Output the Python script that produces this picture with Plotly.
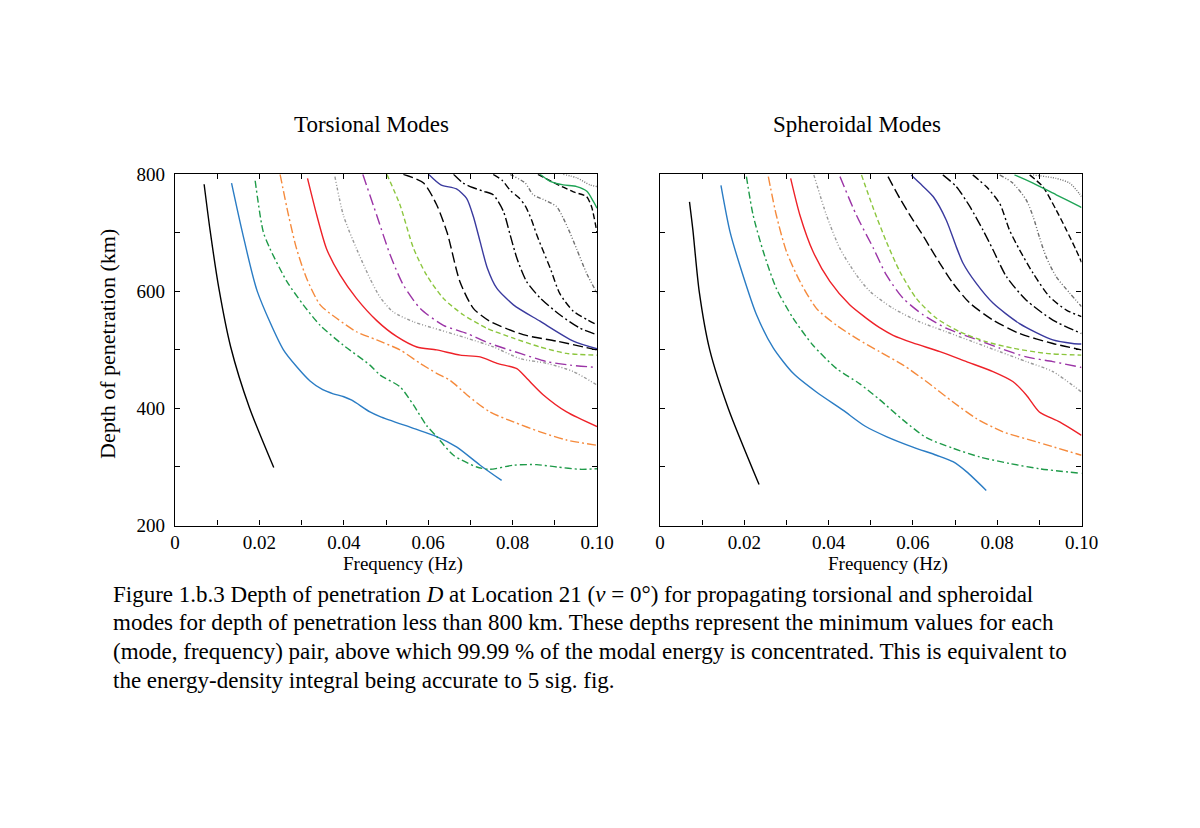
"""
Depth of penetration for torsional and spheroidal modes (two panels + caption)
"""
import plotly.graph_objects as go

# ---- torsional modes (left panel): frequency (Hz) / depth (km) per overtone ----
T1_F = [0.0069, 0.0083, 0.0104, 0.0132, 0.0176, 0.0234]
T1_D = [783, 705, 605, 505, 402, 299]
T2_F = [0.0134, 0.0160, 0.0195, 0.0257, 0.0290, 0.0320, 0.0350, 0.0375, 0.0400, 0.0419, 0.0462, 0.0486, 0.0565, 0.0620, 0.0668, 0.0723, 0.0774]
T2_D = [785, 700, 600, 500, 470, 447, 432, 425, 420, 414, 394, 386, 366, 352, 334, 303, 277]
T3_F = [0.0190, 0.0209, 0.0225, 0.0265, 0.0304, 0.0344, 0.0399, 0.0462, 0.0486, 0.0533, 0.0565, 0.0596, 0.0620, 0.0660, 0.0715, 0.0746, 0.0802, 0.0857, 0.0905, 0.0960, 0.1000]
T3_D = [789, 702, 673, 617, 577, 542, 508, 474, 457, 437, 406, 371, 352, 320, 300, 296, 303, 304, 300, 296, 297]
T4_F = [0.0249, 0.0269, 0.0288, 0.0312, 0.0344, 0.0383, 0.0430, 0.0478, 0.0533, 0.0581, 0.0620, 0.0652, 0.0692, 0.0746, 0.0802, 0.0865, 0.0928, 0.1000]
T4_D = [800, 730, 673, 622, 577, 554, 531, 517, 500, 477, 460, 448, 423, 394, 377, 360, 346, 337]
T5_F = [0.0314, 0.0336, 0.0359, 0.0391, 0.0430, 0.0478, 0.0525, 0.0573, 0.0620, 0.0676, 0.0723, 0.0763, 0.0810, 0.0834, 0.0873, 0.0928, 0.1000]
T5_D = [793, 730, 673, 628, 588, 550, 523, 505, 500, 491, 488, 477, 468, 451, 423, 394, 369]
T6_F = [0.0379, 0.0399, 0.0430, 0.0462, 0.0486, 0.0517, 0.0565, 0.0628, 0.0692, 0.0755, 0.0818, 0.0881, 0.0944, 0.1000]
T6_D = [796, 730, 673, 622, 590, 565, 548, 534, 520, 505, 485, 477, 463, 440]
T7_F = [0.0445, 0.0478, 0.0510, 0.0541, 0.0581, 0.0636, 0.0692, 0.0746, 0.0818, 0.0881, 0.0936, 0.1000]
T7_D = [800, 730, 662, 611, 571, 542, 528, 511, 494, 480, 474, 470]
T8_F = [0.0502, 0.0533, 0.0565, 0.0596, 0.0636, 0.0683, 0.0739, 0.0802, 0.0865, 0.0928, 0.1000]
T8_D = [800, 748, 674, 628, 588, 560, 537, 520, 505, 494, 491]
T9_F = [0.0541, 0.0589, 0.0620, 0.0645, 0.0675, 0.0707, 0.0746, 0.0825, 0.0904, 0.1000]
T9_D = [800, 785, 748, 700, 617, 571, 549, 526, 515, 500]
T10_F = [0.0601, 0.0630, 0.0667, 0.0691, 0.0707, 0.0723, 0.0740, 0.0762, 0.0802, 0.0865, 0.0944, 0.1000]
T10_D = [800, 782, 775, 759, 728, 685, 640, 606, 577, 549, 515, 502]
T11_F = [0.0660, 0.0683, 0.0707, 0.0731, 0.0754, 0.0778, 0.0794, 0.0810, 0.0833, 0.0865, 0.0912, 0.0960, 0.1000]
T11_D = [800, 785, 777, 771, 765, 737, 697, 657, 617, 589, 560, 537, 526]
T12_F = [0.0754, 0.0775, 0.0795, 0.0815, 0.0830, 0.0845, 0.0857, 0.0873, 0.0889, 0.0912, 0.0944, 0.0976, 0.1000]
T12_D = [800, 790, 772, 760, 746, 722, 697, 668, 640, 596, 566, 552, 543]
T13_F = [0.0794, 0.0830, 0.0849, 0.0873, 0.0904, 0.0920, 0.0936, 0.0952, 0.0976, 0.1000]
T13_D = [800, 785, 765, 757, 745, 725, 700, 672, 630, 597]
T14_F = [0.0860, 0.0900, 0.0944, 0.0975, 0.0987, 0.1000]
T14_D = [800, 785, 770, 762, 745, 700]
T15_F = [0.0865, 0.0889, 0.0920, 0.0952, 0.0976, 0.0991, 0.1000]
T15_D = [800, 788, 782, 779, 771, 754, 742]
T16_F = [0.0920, 0.0952, 0.0983, 0.1000]
T16_D = [800, 794, 782, 779]

# ---- spheroidal modes (right panel) ----
S1_F = [0.0070, 0.0078, 0.0093, 0.0118, 0.0162, 0.0235]
S1_D = [753, 705, 600, 500, 400, 270]
S2_F = [0.01446, 0.0166, 0.0194, 0.0229, 0.0269, 0.0316, 0.0371, 0.0434, 0.0486, 0.0537, 0.0600, 0.0656, 0.0695, 0.0727, 0.0774]
S2_D = [781, 702, 634, 560, 503, 460, 428, 397, 370, 352, 334, 320, 309, 292, 260]
S3_F = [0.0205, 0.0221, 0.0245, 0.0276, 0.0316, 0.0363, 0.0419, 0.0474, 0.0521, 0.0577, 0.0632, 0.0695, 0.0759, 0.0829, 0.0900, 0.1000]
S3_D = [796, 730, 668, 605, 554, 508, 468, 442, 415, 380, 350, 332, 317, 306, 297, 289]
S4_F = [0.0257, 0.0276, 0.0300, 0.0332, 0.0371, 0.0419, 0.0470, 0.0521, 0.0577, 0.0632, 0.0695, 0.0750, 0.0814, 0.0893, 0.1000]
S4_D = [796, 730, 668, 617, 571, 542, 518, 497, 474, 446, 411, 383, 360, 343, 320]
S5_F = [0.0310, 0.0332, 0.0363, 0.0403, 0.0450, 0.0486, 0.0521, 0.0553, 0.0600, 0.0664, 0.0727, 0.0790, 0.0837, 0.0869, 0.0900, 0.0948, 0.1000]
S5_D = [793, 730, 668, 617, 577, 556, 538, 525, 512, 497, 480, 463, 446, 423, 394, 377, 354]
S6_F = [0.0365, 0.0395, 0.0427, 0.0466, 0.0498, 0.0553, 0.0616, 0.0679, 0.0742, 0.0806, 0.0869, 0.0932, 0.1000]
S6_D = [799, 730, 673, 628, 600, 571, 548, 531, 514, 497, 480, 463, 428]
S7_F = [0.0427, 0.0466, 0.0506, 0.0537, 0.0577, 0.0624, 0.0679, 0.0742, 0.0806, 0.0869, 0.0932, 0.1000]
S7_D = [796, 730, 674, 628, 588, 560, 537, 520, 503, 488, 480, 470]
S8_F = [0.0478, 0.0506, 0.0537, 0.0569, 0.0608, 0.0656, 0.0711, 0.0774, 0.0837, 0.0916, 0.1000]
S8_D = [799, 742, 685, 634, 588, 554, 531, 514, 503, 494, 491]
S9_F = [0.0541, 0.0569, 0.0600, 0.0620, 0.0640, 0.0664, 0.0695, 0.0735, 0.0790, 0.0853, 0.0932, 0.1000]
S9_D = [796, 759, 722, 700, 676, 648, 614, 580, 551, 528, 511, 500]
S10_F = [0.0596, 0.0616, 0.0648, 0.0679, 0.0703, 0.0719, 0.0750, 0.0790, 0.0853, 0.0932, 0.0979, 0.1000]
S10_D = [799, 785, 762, 722, 676, 648, 614, 580, 545, 517, 511, 510]
S11_F = [0.0671, 0.0703, 0.0735, 0.0766, 0.0790, 0.0822, 0.0869, 0.0932, 0.1000]
S11_D = [799, 779, 745, 705, 671, 625, 585, 551, 528]
S12_F = [0.0742, 0.0774, 0.0806, 0.0829, 0.0853, 0.0885, 0.0924, 0.0964, 0.1000]
S12_D = [799, 779, 750, 705, 671, 631, 591, 568, 557]
S13_F = [0.0806, 0.0837, 0.0869, 0.0885, 0.0900, 0.0916, 0.0940, 0.0972, 0.1000]
S13_D = [799, 785, 756, 728, 693, 659, 625, 597, 574]
S14_F = [0.0877, 0.0908, 0.0940, 0.0964, 0.0987, 0.1000]
S14_D = [799, 779, 739, 705, 671, 650]
S15_F = [0.0841, 0.0885, 0.0940, 0.0995, 0.1000]
S15_D = [799, 785, 765, 745, 743]
S16_F = [0.0885, 0.0940, 0.0972, 0.0995, 0.1000]
S16_D = [799, 793, 785, 767, 762]

X_TICKS = [0, 0.01, 0.02, 0.03, 0.04, 0.05, 0.06, 0.07, 0.08, 0.09, 0.10]
X_LABELS = ["0", "", "0.02", "", "0.04", "", "0.06", "", "0.08", "", "0.10"]
Y_TICKS = [200, 300, 400, 500, 600, 700, 800]
Y_LABELS = ["200", "", "400", "", "600", "", "800"]

CAPTION = [
    "Figure 1.b.3 Depth of penetration <i>D</i> at Location 21 (<i>ν</i> = 0°) for propagating torsional and spheroidal",
    "modes for depth of penetration less than 800 km. These depths represent the minimum values for each",
    "(mode, frequency) pair, above which 99.99 % of the modal energy is concentrated. This is equivalent to",
    "the energy-density integral being accurate to 5 sig. fig.",
]

# line style per overtone (same in both panels)
STYLES = [
    ("black", "solid"),
    ("#2a7cc4", "solid"),
    ("#1e9a48", "7px,3px,2px,3px"),
    ("#f58a3c", "9px,3px,2px,3px"),
    ("#ee2128", "solid"),
    ("#9a9a9a", "3px,2px,1px,2px,1px,2px"),
    ("#9b34a6", "11px,4px,2px,4px"),
    ("#8cc63e", "5px,3px"),
    ("black", "10px,4px"),
    ("#3a3a9e", "solid"),
    ("black", "10px,3px,2px,3px"),
    ("black", "7px,3px,2px,3px"),
    ("#707070", "4px,2px,1px,2px,1px,2px"),
    ("black", "6px,3px"),
    ("#1fa456", "solid"),
    ("#777777", "1px,1.5px"),
]

TORSIONAL = [(T1_F, T1_D), (T2_F, T2_D), (T3_F, T3_D), (T4_F, T4_D), (T5_F, T5_D),
             (T6_F, T6_D), (T7_F, T7_D), (T8_F, T8_D), (T9_F, T9_D), (T10_F, T10_D),
             (T11_F, T11_D), (T12_F, T12_D), (T13_F, T13_D), (T14_F, T14_D),
             (T15_F, T15_D), (T16_F, T16_D)]
SPHEROIDAL = [(S1_F, S1_D), (S2_F, S2_D), (S3_F, S3_D), (S4_F, S4_D), (S5_F, S5_D),
              (S6_F, S6_D), (S7_F, S7_D), (S8_F, S8_D), (S9_F, S9_D), (S10_F, S10_D),
              (S11_F, S11_D), (S12_F, S12_D), (S13_F, S13_D), (S14_F, S14_D),
              (S15_F, S15_D), (S16_F, S16_D)]

SERIF = "Liberation Serif, DejaVu Serif, serif"
W, H = 1200, 828
PAGE_OFFSET = 8  # the html body margin shifts the whole figure by 8px


def px(x):
    return (x - PAGE_OFFSET) / W


def py(y):
    return 1 - (y - PAGE_OFFSET) / H


fig = go.Figure()

for (xa, ya), modes in [(("x", "y"), TORSIONAL), (("x2", "y2"), SPHEROIDAL)]:
    for (f, d), (color, dash) in zip(modes, STYLES):
        fig.add_trace(go.Scatter(
            x=f, y=d, mode="lines", xaxis=xa, yaxis=ya, showlegend=False,
            line=dict(color=color, width=1.4, dash=dash, shape="spline", smoothing=0.7),
            hoverinfo="skip",
        ))

axis_common = dict(
    showline=True, linecolor="black", linewidth=1.2, mirror="ticks",
    ticks="inside", ticklen=5, tickcolor="black", tickwidth=1,
    showgrid=False, zeroline=False, automargin=False,
    tickfont=dict(family=SERIF, size=19, color="black"),
)

fig.update_layout(
    width=W, height=H,
    margin=dict(l=0, r=0, t=0, b=0, pad=0, autoexpand=False),
    paper_bgcolor="white", plot_bgcolor="white",
    font=dict(family=SERIF, color="black"),
    xaxis=dict(domain=[px(175), px(597)], range=[0, 0.10], tickvals=X_TICKS,
               ticktext=X_LABELS, anchor="y", **axis_common),
    yaxis=dict(domain=[py(525.5), py(174.3)], range=[200, 800], tickvals=Y_TICKS,
               ticktext=Y_LABELS, anchor="x", ticklabelstandoff=5, **axis_common),
    xaxis2=dict(domain=[px(660), px(1081.5)], range=[0, 0.10], tickvals=X_TICKS,
                ticktext=X_LABELS, anchor="y2", **axis_common),
    yaxis2=dict(domain=[py(525.5), py(174.3)], range=[200, 800], tickvals=Y_TICKS,
                showticklabels=False, anchor="x2", **axis_common),
)


def note(text, x, y, size, **kw):
    fig.add_annotation(text=text, x=px(x), y=py(y), xref="paper", yref="paper",
                       showarrow=False, yanchor="middle",
                       font=dict(family=SERIF, size=size, color="black"), **kw)


# panel titles and axis titles
note("Torsional Modes", 371, 125, 23, xanchor="center")
note("Spheroidal Modes", 857, 125, 23, xanchor="center")
note("Frequency (Hz)", 403, 564, 19, xanchor="center")
note("Frequency (Hz)", 888, 564, 19, xanchor="center")
note("Depth of penetration (km)", 107, 344, 22, xanchor="center", textangle=-90)

# caption, one annotation per printed line
for i, line in enumerate(CAPTION):
    note(line, 111, 594 + 28.7 * i, 23, xanchor="left", align="left")

fig.write_html("out.html")
